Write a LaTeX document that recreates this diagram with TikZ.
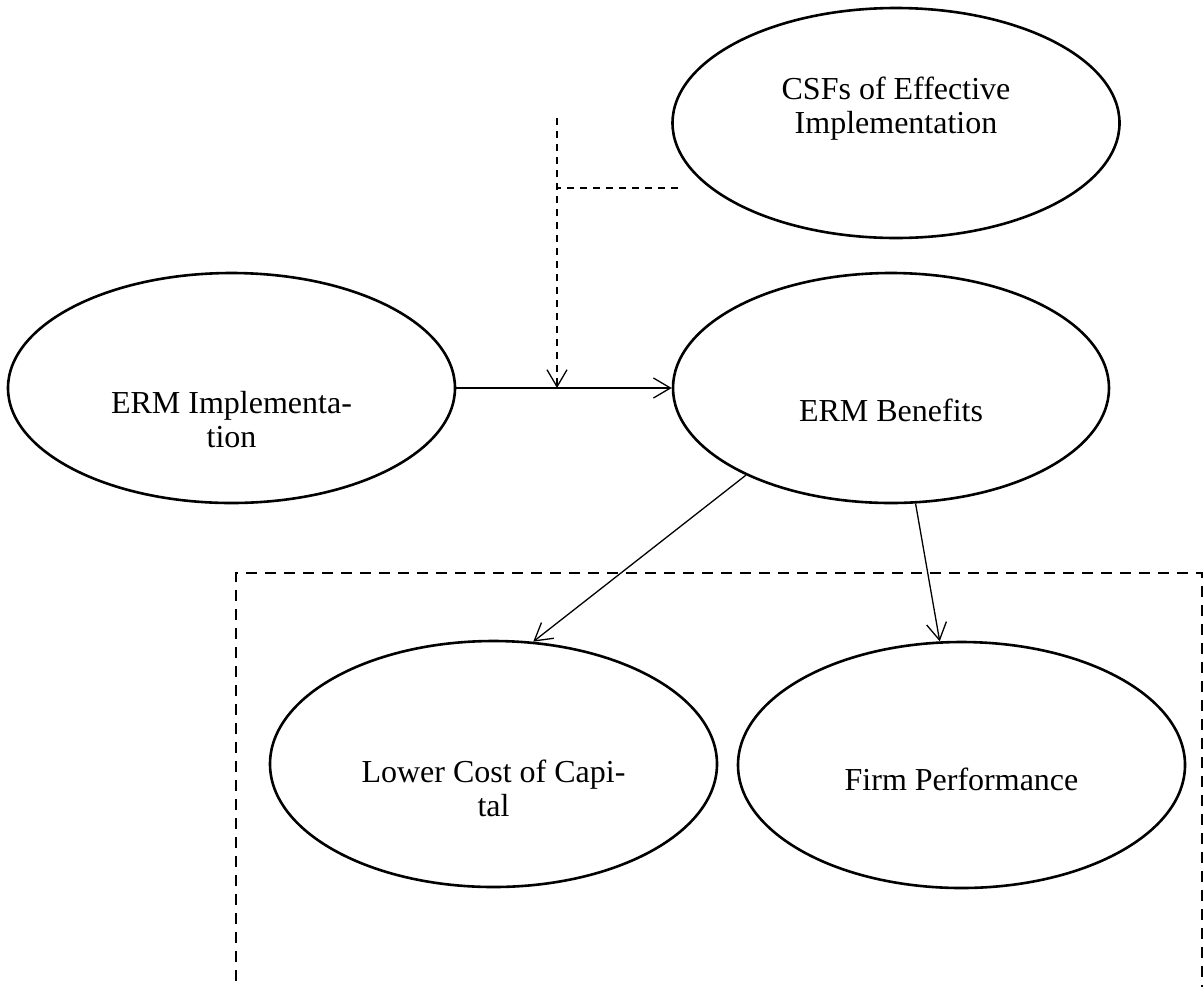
\documentclass[tikz,border=0pt]{standalone}
\usepackage{fontspec}
\setmainfont{Liberation Serif}
\usetikzlibrary{arrows.meta,shapes.geometric}

\begin{document}
\begin{tikzpicture}[
  x=0.5pt,y=-0.5pt,
  oval/.style={draw,ellipse,line width=1.3pt,minimum width=223.5pt,minimum height=115pt,inner sep=0pt},
  txt/.style={font=\fontsize{16}{17}\selectfont,align=center},
  arr/.style={-{Straight Barb[length=8.5pt,width=10pt]},line width=0.65pt},
  modline/.style={line width=0.65pt,dash pattern=on 3.5pt off 3pt},
  frame/.style={line width=1.15pt,dash pattern=on 5.5pt off 4pt}
]
\useasboundingbox (0,0) rectangle (1203,986);
\clip (0,0) rectangle (1203,986);

% constructs
\node[oval,label={[txt,yshift=7pt]center:CSFs of Effective\\Implementation}] (csf) at (896,123) {};
\node[oval,label={[txt,yshift=-16pt]center:ERM Implementa-\\tion}] (impl) at (231.5,388) {};
\node[oval,minimum width=218pt,label={[txt,yshift=-11pt]center:ERM Benefits}] (benefits) at (891,388) {};
\node[oval,minimum height=123pt,label={[txt,yshift=-12pt]center:Lower Cost of Capi-\\tal}] (lowcost) at (493.5,764) {};
\node[oval,minimum height=123pt,label={[txt,yshift=-7pt]center:Firm Performance}] (firmperf) at (961.5,765) {};

% dashed outcome frame
\draw[frame] (236,1000) -- (236,573) -- (1202,573) -- (1202,1000);

% moderating path
\coordinate (modtop) at (557,118);
\coordinate (modend) at (678,188);
\draw[modline] (modend) -- (modtop |- modend);
\draw[modline,arr] (modtop) -- (modtop |- impl.east);

% main paths
\draw[arr] (impl.east) -- (benefits.west);
\draw[arr] (benefits.211) -- (lowcost.72);
\draw[arr] (benefits.282) -- (firmperf.100);
\end{tikzpicture}
\end{document}
